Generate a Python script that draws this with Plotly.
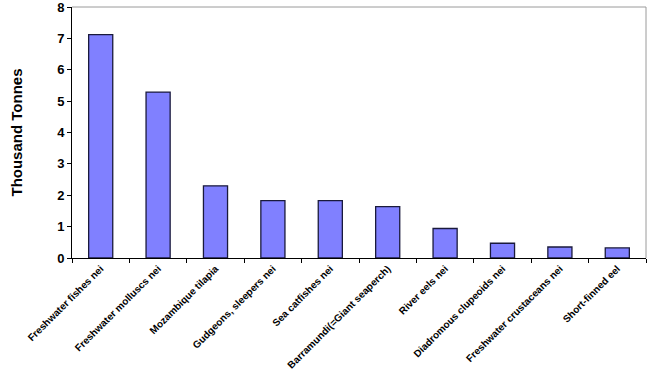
import plotly.graph_objects as go

categories = [
    "Freshwater fishes nei",
    "Freshwater molluscs nei",
    "Mozambique tilapia",
    "Gudgeons, sleepers nei",
    "Sea catfishes nei",
    "Barramundi(=Giant seaperch)",
    "River eels nei",
    "Diadromous clupeoids nei",
    "Freshwater crustaceans nei",
    "Short-finned eel",
]
values = [7.12, 5.29, 2.30, 1.83, 1.83, 1.64, 0.94, 0.47, 0.35, 0.32]
y_ticks = [0, 1, 2, 3, 4, 5, 6, 7, 8]

fig = go.Figure(
    go.Bar(
        x=categories,
        y=values,
        width=0.42,
        marker=dict(color="#8080FF", line=dict(color="#1A1A3C", width=1.3)),
    )
)

font = "Liberation Sans, Arial, sans-serif"
fig.update_layout(
    width=650,
    height=371,
    margin=dict(l=72, r=4, t=7, b=113, autoexpand=False),
    paper_bgcolor="white",
    plot_bgcolor="white",
    showlegend=False,
    font=dict(family=font, color="black"),
    shapes=[
        dict(type="line", xref="paper", yref="paper", x0=0, x1=1, y0=1, y1=1,
             line=dict(color="#9a9a9a", width=1)),
        dict(type="line", xref="paper", yref="paper", x0=1, x1=1, y0=0, y1=1,
             line=dict(color="#9a9a9a", width=1)),
    ],
)
fig.update_xaxes(
    type="category",
    automargin=False,
    tickangle=-45,
    tickson="boundaries",
    ticks="outside",
    ticklen=4,
    tickcolor="black",
    showline=True,
    linecolor="black",
    linewidth=1,
    tickfont=dict(family=font, size=10, color="black", weight="bold"),
    showgrid=False,
)
fig.update_yaxes(
    range=[0, 8],
    automargin=False,
    tickvals=y_ticks,
    ticks="outside",
    ticklen=4,
    tickcolor="black",
    showline=True,
    linecolor="black",
    linewidth=1,
    showgrid=False,
    zeroline=False,
    ticklabeloverflow="allow",
    tickfont=dict(family=font, size=13, color="black", weight="bold"),
    title=dict(text="Thousand Tonnes", font=dict(family=font, size=15, color="black", weight="bold"), standoff=30),
)

fig.write_html(
    "out.html",
    config={"displayModeBar": False},
    post_script="document.body.style.margin='0';document.body.style.overflow='hidden';",
)
